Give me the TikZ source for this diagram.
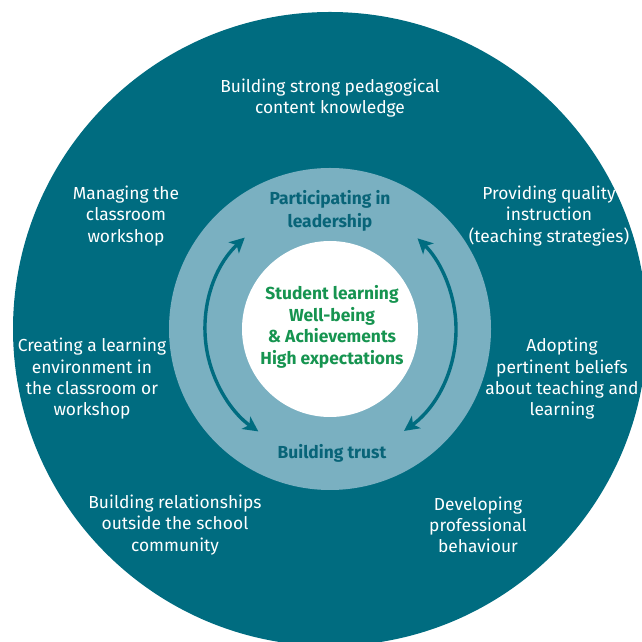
\documentclass[tikz,border=0pt]{standalone}
\usepackage{fontspec}
\setmainfont{Fira Sans}
\usetikzlibrary{arrows.meta}
\definecolor{outerteal}{RGB}{0,108,128}
\definecolor{ringblue}{RGB}{122,176,193}
\definecolor{innergreen}{RGB}{22,148,80}
\definecolor{labelteal}{RGB}{8,100,120}
\tikzset{
  outertext/.style={text=white, align=center, inner sep=0pt,
    font=\fontsize{17.4}{21.3}\selectfont},
  ringtext/.style={text=labelteal, align=center, inner sep=0pt,
    font=\fontsize{17.4}{22.8}\selectfont\bfseries},
  centertext/.style={text=innergreen, align=center, inner sep=0pt,
    font=\fontsize{17.4}{21.6}\selectfont\bfseries},
  cyclearrow/.style={draw=outerteal, line width=3.4pt,
    {Stealth[length=15pt,width=15pt,inset=4pt]}-{Stealth[length=15pt,width=15pt,inset=4pt]}}
}
\begin{document}
\begin{tikzpicture}[x=1pt,y=1pt]
\useasboundingbox (0,0) rectangle (642,642);
\clip (0,0) rectangle (642,642);
\coordinate (C) at (330,313);
\fill[outerteal] (C) circle[radius=317];
\fill[ringblue] (C) circle[radius=161];
\fill[white] (C) circle[radius=88];
% cycle arrows
\draw[cyclearrow] ([shift={(133:125)}]C) arc[start angle=133, end angle=235, radius=125];
\draw[cyclearrow] ([shift={(-54:126)}]C) arc[start angle=-54, end angle=46, radius=126];
% outer texts
\node[outertext] (pck) at (330,544) {Building strong pedagogical\\content knowledge};
\node[outertext] (mgt) at (126,426) {Managing the\\classroom\\workshop};
\node[outertext] (pqi) at (549,426) {Providing quality\\instruction\\(teaching strategies)};
\node[outertext] (cle) at (92,263) {Creating a learning\\environment in\\the classroom or\\workshop};
\node[outertext] (apb) at (562,263) {Adopting\\pertinent beliefs\\about teaching and\\learning};
\node[outertext] (brs) at (175,117) {Building relationships\\outside the school\\community};
\node[outertext] (dpb) at (478,117) {Developing\\professional\\behaviour};
% ring texts
\node[ringtext] (lead) at (330,431) {Participating in\\leadership};
\node[ringtext] (trust) at (332,189) {Building trust};
% centre
\node[centertext] (core) at (332,315) {Student learning\\Well-being\\\&~Achievements\\High expectations};
\end{tikzpicture}
\end{document}
